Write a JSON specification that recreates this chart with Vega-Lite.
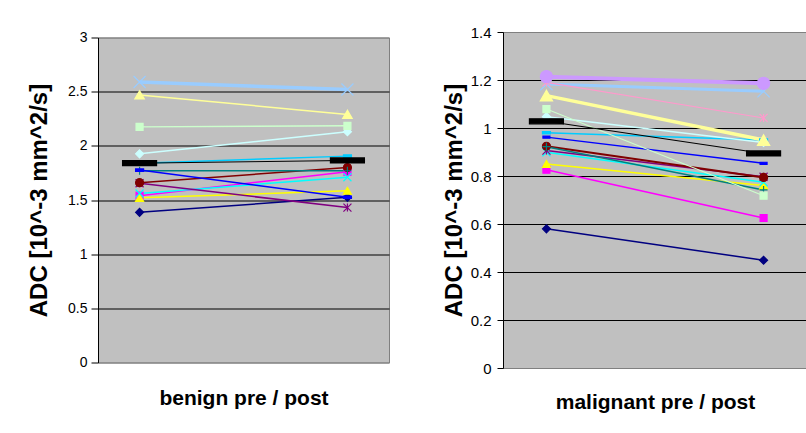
{
  "$schema": "https://vega.github.io/schema/vega-lite/v6.json",
  "background": "white",
  "padding": {"left": 27, "top": 24, "right": 0, "bottom": 0},
  "config": {
    "font": "Liberation Sans",
    "view": {"fill": "#C0C0C0", "stroke": "#808080", "strokeWidth": 1},
    "axis": {"labelColor": "black", "titleColor": "black", "domainColor": "black", "tickColor": "black", "labelFont": "Liberation Sans", "titleFont": "Liberation Sans"}
  },
  "data": {
    "values": [
      {"panel": "benign", "series": "S01", "phase": "pre", "adc": 1.386},
      {"panel": "benign", "series": "S01", "phase": "post", "adc": 1.525},
      {"panel": "benign", "series": "S02", "phase": "pre", "adc": 1.54},
      {"panel": "benign", "series": "S02", "phase": "post", "adc": 1.76},
      {"panel": "benign", "series": "S03", "phase": "pre", "adc": 1.52},
      {"panel": "benign", "series": "S03", "phase": "post", "adc": 1.585},
      {"panel": "benign", "series": "S04", "phase": "pre", "adc": 1.56},
      {"panel": "benign", "series": "S04", "phase": "post", "adc": 1.71},
      {"panel": "benign", "series": "S05", "phase": "pre", "adc": 1.655},
      {"panel": "benign", "series": "S05", "phase": "post", "adc": 1.43},
      {"panel": "benign", "series": "S06", "phase": "pre", "adc": 1.66},
      {"panel": "benign", "series": "S06", "phase": "post", "adc": 1.8},
      {"panel": "benign", "series": "S07", "phase": "pre", "adc": 1.77},
      {"panel": "benign", "series": "S07", "phase": "post", "adc": 1.77},
      {"panel": "benign", "series": "S08", "phase": "pre", "adc": 1.776},
      {"panel": "benign", "series": "S08", "phase": "post", "adc": 1.525},
      {"panel": "benign", "series": "S09", "phase": "pre", "adc": 1.84},
      {"panel": "benign", "series": "S09", "phase": "post", "adc": 1.905},
      {"panel": "benign", "series": "S10", "phase": "pre", "adc": 1.926},
      {"panel": "benign", "series": "S10", "phase": "post", "adc": 2.13},
      {"panel": "benign", "series": "S11", "phase": "pre", "adc": 2.175},
      {"panel": "benign", "series": "S11", "phase": "post", "adc": 2.185},
      {"panel": "benign", "series": "S12", "phase": "pre", "adc": 2.47},
      {"panel": "benign", "series": "S12", "phase": "post", "adc": 2.29},
      {"panel": "benign", "series": "S13", "phase": "pre", "adc": 2.589},
      {"panel": "benign", "series": "S13", "phase": "post", "adc": 2.52},
      {"panel": "benign", "series": "mean", "phase": "pre", "adc": 1.84},
      {"panel": "benign", "series": "mean", "phase": "post", "adc": 1.865},
      {"panel": "malignant", "series": "S01", "phase": "pre", "adc": 0.58},
      {"panel": "malignant", "series": "S01", "phase": "post", "adc": 0.449},
      {"panel": "malignant", "series": "S02", "phase": "pre", "adc": 0.826},
      {"panel": "malignant", "series": "S02", "phase": "post", "adc": 0.625},
      {"panel": "malignant", "series": "S03", "phase": "pre", "adc": 0.85},
      {"panel": "malignant", "series": "S03", "phase": "post", "adc": 0.76},
      {"panel": "malignant", "series": "S04", "phase": "pre", "adc": 0.899},
      {"panel": "malignant", "series": "S04", "phase": "post", "adc": 0.774},
      {"panel": "malignant", "series": "S05", "phase": "pre", "adc": 0.906},
      {"panel": "malignant", "series": "S05", "phase": "post", "adc": 0.797},
      {"panel": "malignant", "series": "S06", "phase": "pre", "adc": 0.924},
      {"panel": "malignant", "series": "S06", "phase": "post", "adc": 0.794},
      {"panel": "malignant", "series": "S07", "phase": "pre", "adc": 0.922},
      {"panel": "malignant", "series": "S07", "phase": "post", "adc": 0.742},
      {"panel": "malignant", "series": "S08", "phase": "pre", "adc": 0.962},
      {"panel": "malignant", "series": "S08", "phase": "post", "adc": 0.853},
      {"panel": "malignant", "series": "S09", "phase": "pre", "adc": 0.98},
      {"panel": "malignant", "series": "S09", "phase": "post", "adc": 0.95},
      {"panel": "malignant", "series": "S10", "phase": "pre", "adc": 1.047},
      {"panel": "malignant", "series": "S10", "phase": "post", "adc": 0.94},
      {"panel": "malignant", "series": "S11", "phase": "pre", "adc": 1.079},
      {"panel": "malignant", "series": "S11", "phase": "post", "adc": 0.718},
      {"panel": "malignant", "series": "S12", "phase": "pre", "adc": 1.135},
      {"panel": "malignant", "series": "S12", "phase": "post", "adc": 0.95},
      {"panel": "malignant", "series": "S13", "phase": "pre", "adc": 1.183},
      {"panel": "malignant", "series": "S13", "phase": "post", "adc": 1.153},
      {"panel": "malignant", "series": "S14", "phase": "pre", "adc": 1.19},
      {"panel": "malignant", "series": "S14", "phase": "post", "adc": 1.042},
      {"panel": "malignant", "series": "S15", "phase": "pre", "adc": 1.214},
      {"panel": "malignant", "series": "S15", "phase": "post", "adc": 1.186},
      {"panel": "malignant", "series": "mean", "phase": "pre", "adc": 1.028},
      {"panel": "malignant", "series": "mean", "phase": "post", "adc": 0.894}
    ]
  },
  "spacing": 114,
  "bounds": "flush",
  "center": true,
  "hconcat": [
    {
      "width": 291,
      "height": 325,
      "transform": [{"filter": "datum.panel == 'benign'"}],
      "encoding": {
        "x": {"field": "phase", "type": "nominal", "scale": {"type": "point", "domain": ["pre", "post"], "padding": 0.2},
          "axis": {"title": "benign pre / post", "labels": false, "ticks": false, "domain": false, "grid": false, "titleFontSize": 21, "titleFontWeight": "bold", "titlePadding": 25}},
        "y": {"field": "adc", "type": "quantitative", "scale": {"domain": [0, 3], "nice": false},
          "axis": {"title": "ADC [10^-3 mm^2/s]", "values": [0, 0.5, 1, 1.5, 2, 2.5, 3], "format": "~g", "labelFontSize": 14, "labelPadding": 4, "tickSize": 7, "titleFontSize": 24, "titleFontWeight": "bold", "titlePadding": 16, "grid": true,
            "gridColor": {"condition": {"test": "datum.value == 0 || datum.value == 3", "value": "#808080"}, "value": "black"}, "gridOpacity": 1}},
        "color": {"field": "series", "type": "nominal", "legend": null,
          "scale": {"domain": ["S01","S02","S03","S04","S05","S06","S07","S08","S09","S10","S11","S12","S13","S14","S15","mean"],
            "range": ["#000080","#FF00FF","#FFFF00","#00FFFF","#800080","#800000","#008080","#0000FF","#00CCFF","#CCFFFF","#CCFFCC","#FFFF99","#99CCFF","#FF99CC","#CC99FF","#000000"]}}
      },
      "layer": [
        {
          "mark": {"type": "line"},
          "encoding": {
            "strokeWidth": {"condition": [{"test": "datum.series == 'S13'", "value": 3.5}, {"test": "datum.series == 'mean'", "value": 1}], "value": 1.5}
          }
        },
        {
          "mark": {"type": "point", "filled": true, "opacity": 1, "strokeWidth": 1.2},
          "encoding": {
            "stroke": {"field": "series", "type": "nominal", "legend": null,
              "scale": {"domain": ["S01","S02","S03","S04","S05","S06","S07","S08","S09","S10","S11","S12","S13","S14","S15","mean"],
                "range": ["#000080","#FF00FF","#FFFF00","#00FFFF","#800080","#800000","#008080","#0000FF","#00CCFF","#CCFFFF","#CCFFCC","#FFFF99","#99CCFF","#FF99CC","#CC99FF","#000000"]}},
            "shape": {"field": "series", "type": "nominal", "legend": null,
              "scale": {"domain": ["S01","S02","S03","S04","S05","S06","S07","S08","S09","S10","S11","S12","S13","S14","S15","mean"],
                "range": ["diamond","square","triangle-up","M-1,-1L1,1M-1,1L1,-1","M-1,-1L1,1M-1,1L1,-1M0,-1L0,1","circle","M-1,0L1,0M0,-1L0,1","M-1,-0.3L1,-0.3L1,0.3L-1,0.3Z","M-1,-0.3L1,-0.3L1,0.3L-1,0.3Z","diamond","square","triangle-up","M-1,-1L1,1M-1,1L1,-1","M-1,-1L1,1M-1,1L1,-1M0,-1L0,1","circle","M-1,-0.15L1,-0.15L1,0.15L-1,0.15Z"]}},
            "size": {"condition": [{"test": "datum.series == 'mean'", "value": 1156}, {"test": "datum.series == 'S13'", "value": 144}, {"test": "datum.series == 'S12'", "value": 90}, {"test": "datum.series == 'S02' || datum.series == 'S11'", "value": 49}], "value": 64}
          }
        }
      ]
    },
    {
      "width": 304,
      "height": 336,
      "transform": [{"filter": "datum.panel == 'malignant'"}],
      "encoding": {
        "x": {"field": "phase", "type": "nominal", "scale": {"type": "point", "domain": ["pre", "post"], "padding": 0.2},
          "axis": {"title": "malignant pre / post", "labels": false, "ticks": false, "domain": false, "grid": false, "titleFontSize": 21, "titleFontWeight": "bold", "titlePadding": 23}},
        "y": {"field": "adc", "type": "quantitative", "scale": {"domain": [0, 1.4], "nice": false},
          "axis": {"title": "ADC [10^-3 mm^2/s]", "values": [0, 0.2, 0.4, 0.6, 0.8, 1, 1.2, 1.4], "format": "~g", "labelFontSize": 15, "labelPadding": 6, "tickSize": 6, "titleFontSize": 24, "titleFontWeight": "bold", "titlePadding": 4, "grid": true,
            "gridColor": {"condition": {"test": "datum.value == 0 || datum.value == 1.4", "value": "#808080"}, "value": "black"}, "gridOpacity": 1}},
        "color": {"field": "series", "type": "nominal", "legend": null,
          "scale": {"domain": ["S01","S02","S03","S04","S05","S06","S07","S08","S09","S10","S11","S12","S13","S14","S15","mean"],
            "range": ["#000080","#FF00FF","#FFFF00","#00FFFF","#800080","#800000","#008080","#0000FF","#00CCFF","#CCFFFF","#CCFFCC","#FFFF99","#99CCFF","#FF99CC","#CC99FF","#000000"]}}
      },
      "layer": [
        {
          "mark": {"type": "line"},
          "encoding": {
            "strokeWidth": {"condition": [{"test": "datum.series == 'S15'", "value": 4}, {"test": "datum.series == 'S12'", "value": 3.5}, {"test": "datum.series == 'S13'", "value": 3}, {"test": "datum.series == 'S06'", "value": 2}, {"test": "datum.series == 'mean' || datum.series == 'S11' || datum.series == 'S14'", "value": 1.1}], "value": 1.5}
          }
        },
        {
          "mark": {"type": "point", "filled": true, "opacity": 1, "strokeWidth": 1.2},
          "encoding": {
            "stroke": {"field": "series", "type": "nominal", "legend": null,
              "scale": {"domain": ["S01","S02","S03","S04","S05","S06","S07","S08","S09","S10","S11","S12","S13","S14","S15","mean"],
                "range": ["#000080","#FF00FF","#FFFF00","#00FFFF","#800080","#800000","#008080","#0000FF","#00CCFF","#CCFFFF","#CCFFCC","#FFFF99","#99CCFF","#FF99CC","#CC99FF","#000000"]}},
            "shape": {"field": "series", "type": "nominal", "legend": null,
              "scale": {"domain": ["S01","S02","S03","S04","S05","S06","S07","S08","S09","S10","S11","S12","S13","S14","S15","mean"],
                "range": ["diamond","square","triangle-up","M-1,-1L1,1M-1,1L1,-1","M-1,-1L1,1M-1,1L1,-1M0,-1L0,1","circle","M-1,0L1,0M0,-1L0,1","M-1,-0.3L1,-0.3L1,0.3L-1,0.3Z","M-1,-0.3L1,-0.3L1,0.3L-1,0.3Z","diamond","square","triangle-up","M-1,-1L1,1M-1,1L1,-1","M-1,-1L1,1M-1,1L1,-1M0,-1L0,1","circle","M-1,-0.15L1,-0.15L1,0.15L-1,0.15Z"]}},
            "size": {"condition": [{"test": "datum.series == 'mean'", "value": 1156}, {"test": "datum.series == 'S12' || datum.series == 'S13' || datum.series == 'S15'", "value": 150}, {"test": "datum.series == 'S02' || datum.series == 'S11' || datum.series == 'S08'", "value": 49}], "value": 64}
          }
        }
      ]
    }
  ]
}
